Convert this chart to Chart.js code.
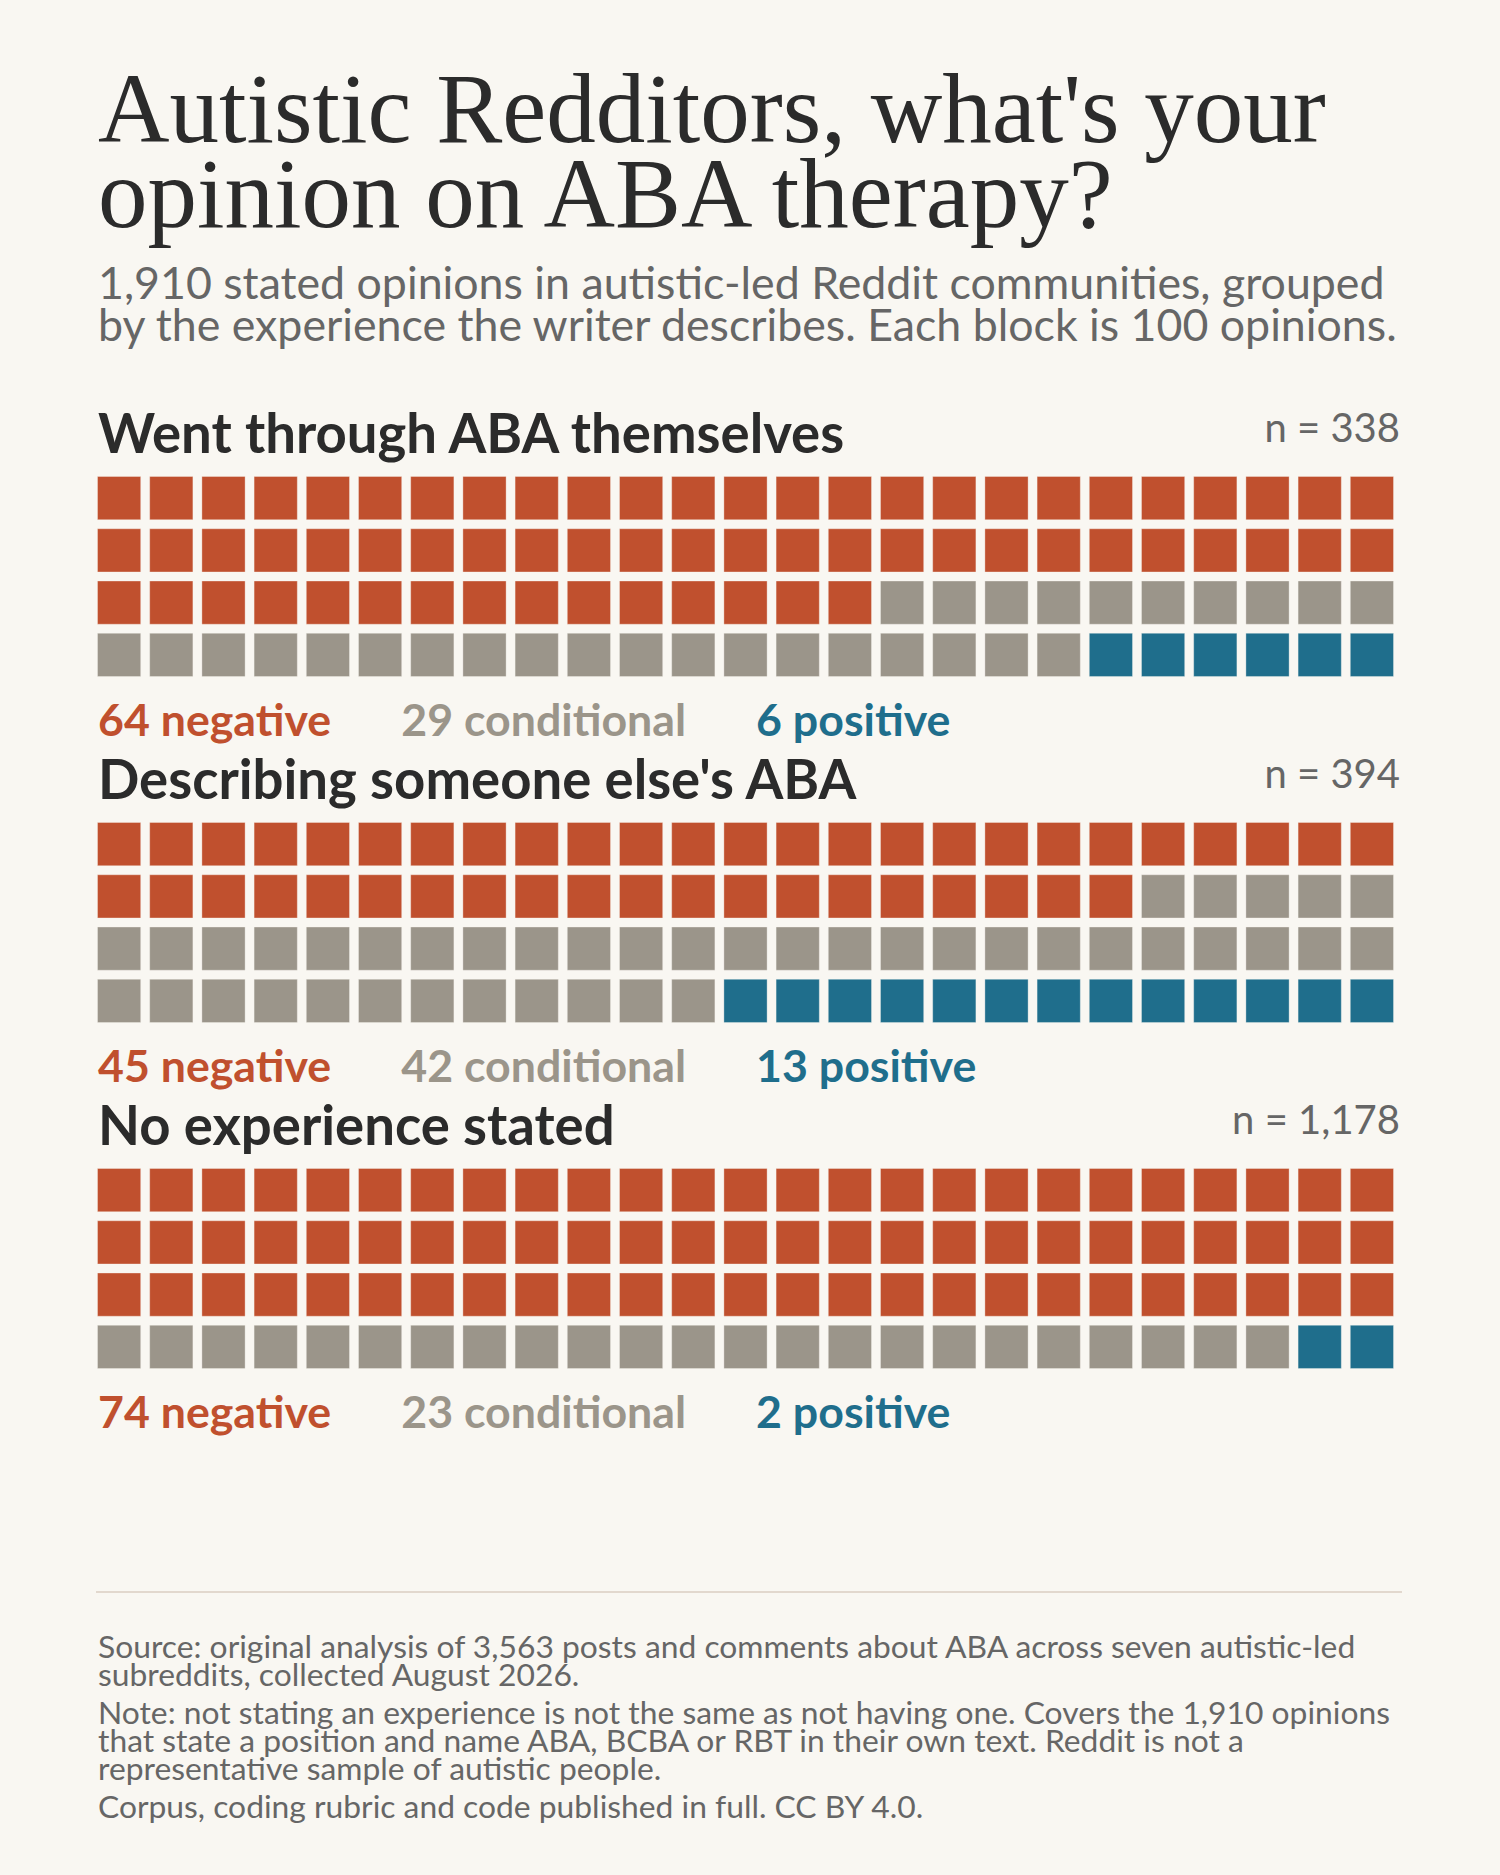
<!DOCTYPE html>
<html>
<head>
<meta charset="utf-8">
<script src="https://cdn.jsdelivr.net/npm/chart.js@4.4.1/dist/chart.umd.min.js"></script>
<style>
  html, body { margin: 0; padding: 0; background: #f9f7f2; }
  body { width: 1500px; height: 1875px; position: relative; font-family: Lato, "Noto Sans", sans-serif; overflow: hidden; }
  .abs { position: absolute; margin: 0; white-space: nowrap; }
  #title { left: 98px; top: 66px; font-family: "Liberation Serif", serif; font-weight: 400; font-size: 99px; line-height: 85px; color: #2b2b2b; }
  #sub { left: 98px; top: 261px; font-size: 44.7px; line-height: 42px; color: #666; }
  .head { font-weight: 700; font-size: 54.5px; line-height: 54px; color: #2b2b2b; left: 98px; }
  .n { font-size: 40px; line-height: 40px; color: #666; right: 100px; }
  .labels { left: 98px; display: flex; gap: 70px; font-weight: 700; font-size: 44.7px; line-height: 45px; }
  canvas { position: absolute; left: 93px; }
  #rule { position: absolute; left: 96px; top: 1591px; width: 1306px; height: 2px; background: #e2d8ce; }
  #foot { left: 98px; top: 1632px; font-size: 31.8px; line-height: 28px; color: #666; }
  #foot p { margin: 0 0 10px 0; }
</style>
</head>
<body>
<h1 id="title" class="abs">Autistic Redditors, what's your<br>opinion on ABA therapy?</h1>
<p id="sub" class="abs">1,910 stated opinions in autistic-led Reddit communities, grouped<br>by the experience the writer describes. Each block is 100 opinions.</p>
<div id="groups"></div>
<div id="rule"></div>
<div id="foot" class="abs">
  <p>Source: original analysis of 3,563 posts and comments about ABA across seven autistic-led<br>subreddits, collected August 2026.</p>
  <p>Note: not stating an experience is not the same as not having one. Covers the 1,910 opinions<br>that state a position and name ABA, BCBA or RBT in their own text. Reddit is not a<br>representative sample of autistic people.</p>
  <p>Corpus, coding rubric and code published in full. CC BY 4.0.</p>
</div>
<script>
// groups and their sizes
const groups = ["Went through ABA themselves", "Describing someone else's ABA", "No experience stated"];
const nTotals = ["338", "394", "1,178"];

// rounded shares shown in the labels
const negativePct = [64, 45, 74];
const conditionalPct = [29, 42, 23];
const positivePct = [6, 13, 2];

// blocks drawn in each 100-block waffle
const negativeBlocks = [65, 45, 75];
const conditionalBlocks = [29, 42, 23];
const positiveBlocks = [6, 13, 2];

const stances = ['negative', 'conditional', 'positive'];
const colors = { negative: '#c0502e', conditional: '#9b958a', positive: '#1f6e8c' };

const COLS = 25, ROWS = 4, GAP = 9;
const sectionTop = 472; // canvas top of first group
const sectionStep = 346;

const root = document.getElementById('groups');

// turn block counts into grid cells, filled row by row
function cells(counts) {
  const out = [];
  let i = 0;
  counts.forEach(c => {
    const pts = [];
    for (let k = 0; k < c; k++, i++) {
      pts.push({ x: i % COLS, y: Math.floor(i / COLS) });
    }
    out.push(pts);
  });
  return out;
}

function cellRadius(chart) {
  const ca = chart.chartArea;
  if (!ca) return 30;
  return ((ca.right - ca.left) / COLS - GAP) / Math.SQRT2;
}

groups.forEach((name, g) => {
  const top = sectionTop + g * sectionStep;

  const h = document.createElement('div');
  h.className = 'abs head';
  h.style.top = (top - 67) + 'px';
  h.textContent = name;
  root.appendChild(h);

  const n = document.createElement('div');
  n.className = 'abs n';
  n.style.top = (top - 65) + 'px';
  n.textContent = 'n = ' + nTotals[g];
  root.appendChild(n);

  const canvas = document.createElement('canvas');
  canvas.width = 1305;
  canvas.height = 209;
  canvas.style.top = top + 'px';
  canvas.style.width = '1305px';
  canvas.style.height = '209px';
  root.appendChild(canvas);

  const lab = document.createElement('div');
  lab.className = 'abs labels';
  lab.style.top = (top + 225) + 'px';
  const pcts = [negativePct[g], conditionalPct[g], positivePct[g]];
  stances.forEach((s, k) => {
    const span = document.createElement('span');
    span.style.color = colors[s];
    span.textContent = pcts[k] + ' ' + s;
    lab.appendChild(span);
  });
  root.appendChild(lab);

  const grid = cells([negativeBlocks[g], conditionalBlocks[g], positiveBlocks[g]]);

  new Chart(canvas.getContext('2d'), {
    type: 'scatter',
    data: {
      datasets: stances.map((s, k) => ({
        label: s,
        data: grid[k],
        backgroundColor: colors[s],
        borderColor: 'rgba(249,247,242,0.35)',
        pointBorderWidth: 1,
        pointStyle: 'rect',
        pointRadius: ctx => cellRadius(ctx.chart),
        pointHoverRadius: ctx => cellRadius(ctx.chart)
      }))
    },
    options: {
      responsive: false,
      animation: false,
      events: [],
      layout: { padding: 0, autoPadding: false },
      plugins: { legend: { display: false }, tooltip: { enabled: false } },
      scales: {
        x: { type: 'linear', min: -0.5, max: COLS - 0.5, display: false },
        y: { type: 'linear', min: -0.5, max: ROWS - 0.5, reverse: true, display: false }
      }
    }
  });
});
</script>
</body>
</html>
